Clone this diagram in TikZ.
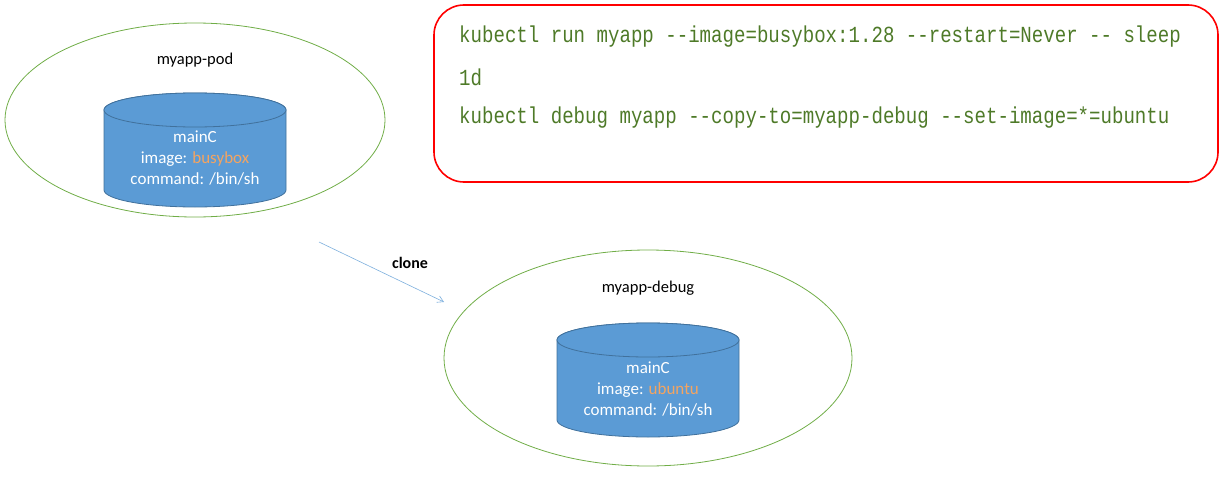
\documentclass[tikz,border=0pt]{standalone}
\usepackage{fontspec}
\setmainfont{Carlito}
\newfontfamily\cmdfont[FakeStretch=0.83]{Liberation Mono}
\usetikzlibrary{arrows.meta}
\definecolor{podgreen}{HTML}{70AD47}
\definecolor{cylfill}{HTML}{5B9BD5}
\definecolor{cylline}{HTML}{41719C}
\definecolor{imgorange}{HTML}{F4A460}
\definecolor{cmdgreen}{HTML}{4E7A28}
\tikzset{
  podellipse/.style={draw=podgreen, line width=0.8pt},
  podlabel/.style={font=\fontsize{16.5}{18}\selectfont, text=black},
  cyltext/.style={font=\fontsize{17}{21}\selectfont, text=white, align=center},
  cylshape/.style={fill=cylfill, draw=cylline, line width=0.8pt},
  cmdline/.style={font=\cmdfont\fontsize{23}{25}\selectfont, text=cmdgreen, anchor=west, inner sep=0pt},
}
\begin{document}
\begin{tikzpicture}[x=1pt,y=-1pt]
\useasboundingbox (0,0) rectangle (1225,487);
% pod 1
\draw[podellipse] (195,120) ellipse [x radius=190, y radius=97];
\node[podlabel] (podlbl) at (195,60) {myapp-pod};
\draw[cylshape] (104,110) -- (104,190) arc[start angle=180, end angle=0, x radius=91, y radius=17] -- (286,110) arc[start angle=0, end angle=-180, x radius=91, y radius=17] -- cycle;
\draw[cylshape] (195,110) ellipse [x radius=91, y radius=17];
\node[cyltext] (cyl1) at (195,158) {mainC\\image: \textcolor{imgorange}{busybox}\\command: /bin/sh};
% pod 2
\draw[podellipse] (648,358) ellipse [x radius=204, y radius=108];
\node[podlabel] (podlbl2) at (648,288) {myapp-debug};
\draw[cylshape] (557,340) -- (557,420) arc[start angle=180, end angle=0, x radius=91, y radius=17] -- (739,340) arc[start angle=0, end angle=-180, x radius=91, y radius=17] -- cycle;
\draw[cylshape] (648,340) ellipse [x radius=91, y radius=17];
\node[cyltext] (cyl2) at (648,389) {mainC\\image: \textcolor{imgorange}{ubuntu}\\command: /bin/sh};
% arrow
\coordinate (arrA) at (319,242);
\coordinate (arrB) at (444,302);
\draw[cylfill!80, line width=0.6pt, -{Straight Barb[length=6pt,width=7pt]}] (arrA) -- (arrB);
\node[font=\fontsize{16}{18}\selectfont\bfseries] (clone) at (410,263) {clone};
% command box
\draw[red, line width=1.6pt, rounded corners=30pt] (434,5) rectangle (1218,182);
\node[cmdline] (l1) at (459,37) {kubectl run myapp --image=busybox:1.28 --restart=Never -- sleep};
\node[cmdline] (l2) at (459,77) {1d};
\node[cmdline] (l3) at (459,118) {kubectl debug myapp --copy-to=myapp-debug --set-image=*=ubuntu};
\end{tikzpicture}
\end{document}
